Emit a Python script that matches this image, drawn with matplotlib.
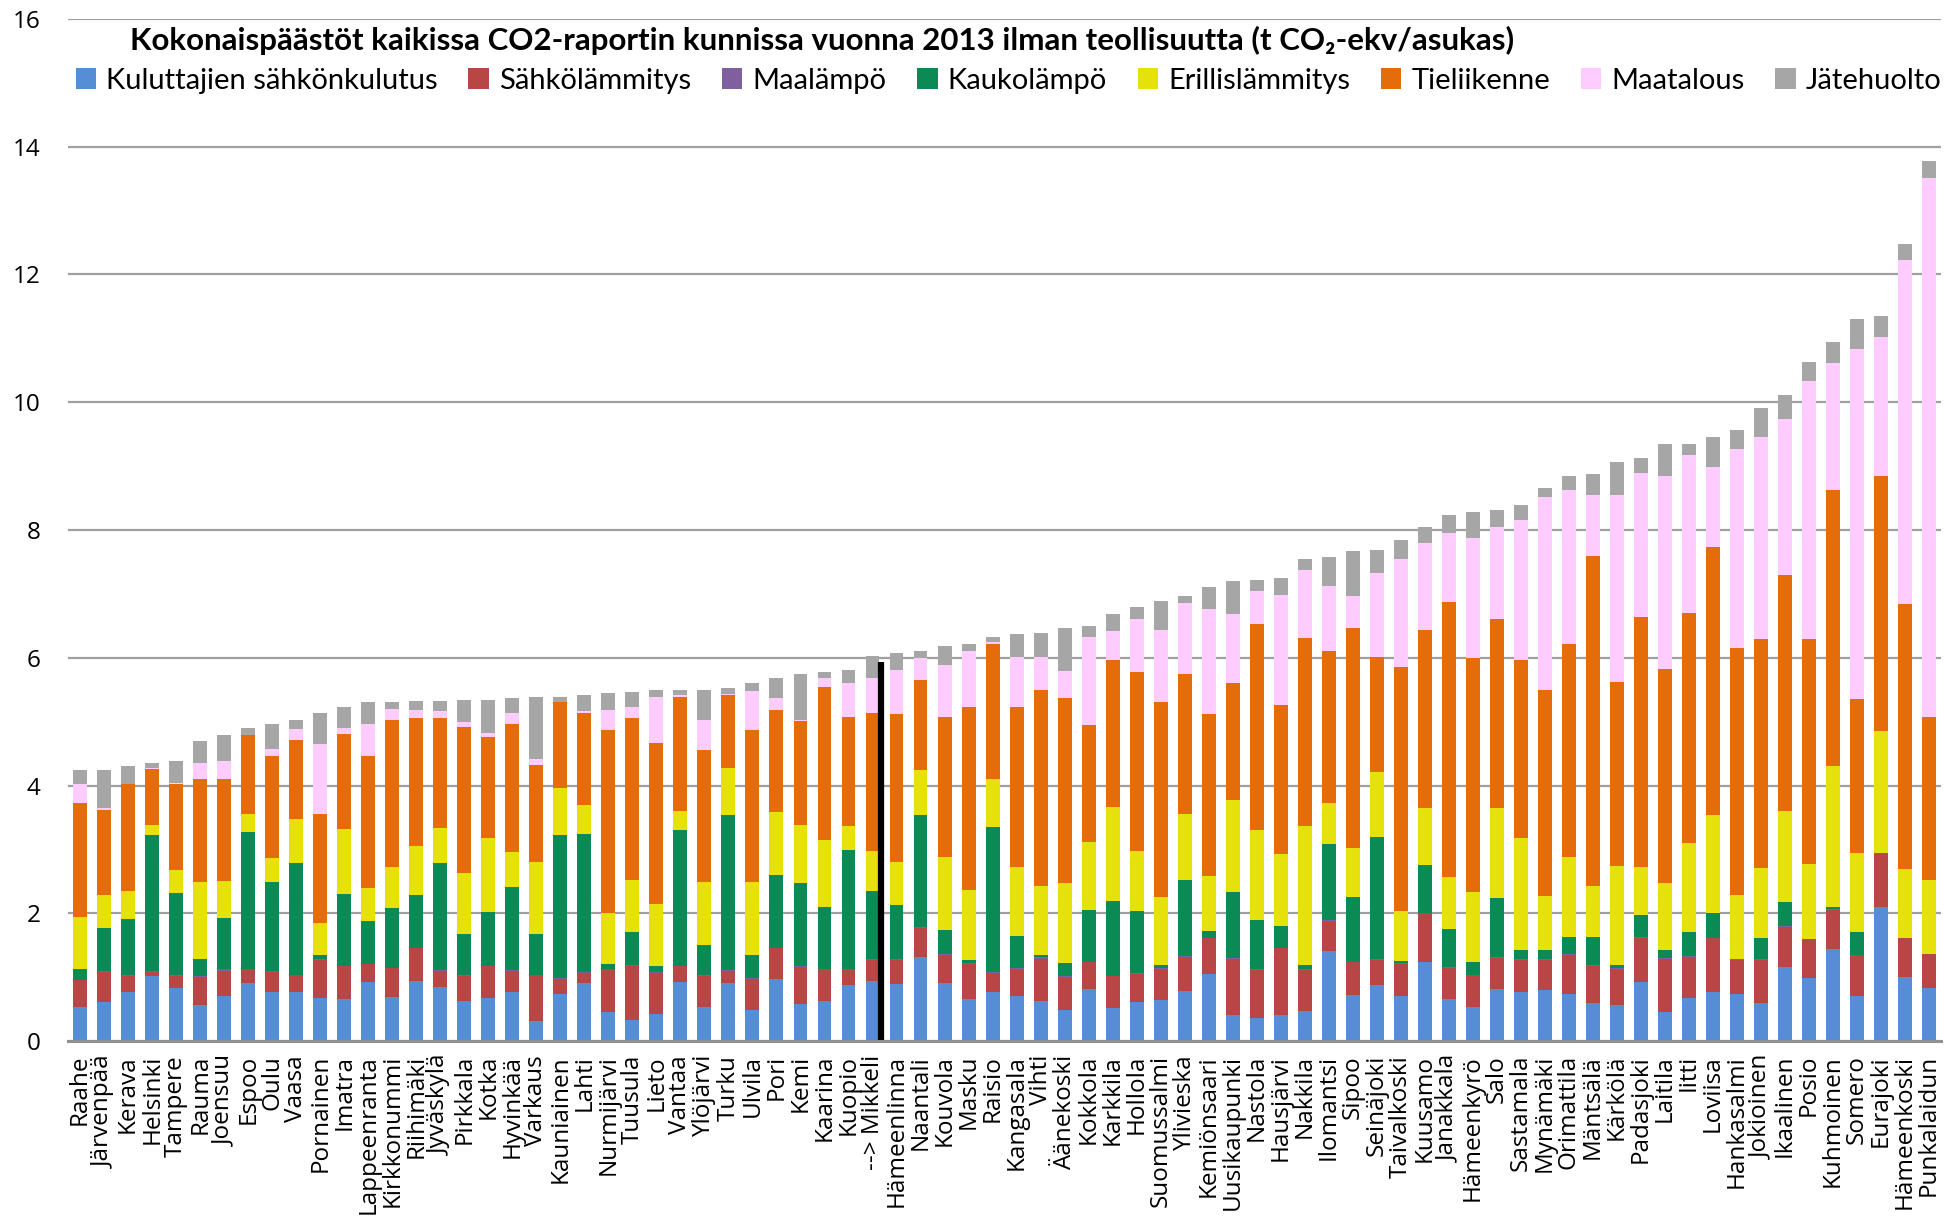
import matplotlib
matplotlib.use("Agg")
import matplotlib.pyplot as plt
import numpy as np

kunnat = ["Raahe", "Järvenpää", "Kerava", "Helsinki", "Tampere", "Rauma", "Joensuu",
          "Espoo", "Oulu", "Vaasa", "Pornainen", "Imatra", "Lappeenranta", "Kirkkonummi",
          "Riihimäki", "Jyväskylä", "Pirkkala", "Kotka", "Hyvinkää", "Varkaus",
          "Kauniainen", "Lahti", "Nurmijärvi", "Tuusula", "Lieto", "Vantaa", "Ylöjärvi",
          "Turku", "Ulvila", "Pori", "Kemi", "Kaarina", "Kuopio", "--> Mikkeli",
          "Hämeenlinna", "Naantali", "Kouvola", "Masku", "Raisio", "Kangasala", "Vihti",
          "Äänekoski", "Kokkola", "Karkkila", "Hollola", "Suomussalmi", "Ylivieska",
          "Kemiönsaari", "Uusikaupunki", "Nastola", "Hausjärvi", "Nakkila", "Ilomantsi",
          "Sipoo", "Seinäjoki", "Taivalkoski", "Kuusamo", "Janakkala", "Hämeenkyrö",
          "Salo", "Sastamala", "Mynämäki", "Orimattila", "Mäntsälä", "Kärkölä",
          "Padasjoki", "Laitila", "Iitti", "Loviisa", "Hankasalmi", "Jokioinen",
          "Ikaalinen", "Posio", "Kuhmoinen", "Somero", "Eurajoki", "Hämeenkoski",
          "Punkalaidun"]

# t CO2-ekv / asukas per sector
sahkonkulutus = [0.53, 0.61, 0.76, 1.02, 0.83, 0.56, 0.71, 0.91, 0.77, 0.76, 0.68, 0.65, 0.92,
                 0.69, 0.94, 0.85, 0.63, 0.68, 0.76, 0.31, 0.73, 0.91, 0.45, 0.33, 0.43, 0.92,
                 0.53, 0.91, 0.48, 0.97, 0.58, 0.63, 0.87, 0.94, 0.90, 1.32, 0.91, 0.65, 0.77,
                 0.71, 0.63, 0.49, 0.81, 0.52, 0.61, 0.64, 0.79, 1.05, 0.40, 0.36, 0.40, 0.47,
                 1.41, 0.72, 0.87, 0.70, 1.24, 0.66, 0.54, 0.81, 0.76, 0.80, 0.74, 0.60, 0.56,
                 0.92, 0.46, 0.67, 0.77, 0.74, 0.60, 1.16, 0.98, 1.44, 0.71, 2.10, 1.00, 0.83]
sahkolammitys = [0.42, 0.47, 0.26, 0.06, 0.19, 0.44, 0.39, 0.21, 0.31, 0.27, 0.59, 0.52, 0.28,
                 0.45, 0.51, 0.25, 0.39, 0.49, 0.34, 0.72, 0.24, 0.16, 0.67, 0.84, 0.64, 0.25,
                 0.49, 0.19, 0.49, 0.48, 0.58, 0.49, 0.25, 0.33, 0.37, 0.45, 0.43, 0.55, 0.30,
                 0.41, 0.66, 0.51, 0.42, 0.49, 0.44, 0.49, 0.53, 0.56, 0.89, 0.75, 1.05, 0.64,
                 0.47, 0.51, 0.40, 0.51, 0.76, 0.49, 0.49, 0.49, 0.51, 0.47, 0.61, 0.58, 0.57,
                 0.70, 0.83, 0.65, 0.84, 0.53, 0.67, 0.63, 0.61, 0.61, 0.63, 0.84, 0.61, 0.54]
maalampo = [0.01, 0.01, 0.02, 0.01, 0.01, 0.02, 0.02, 0.01, 0.01, 0.01, 0.01, 0.01, 0.01,
            0.01, 0.01, 0.01, 0.01, 0.01, 0.01, 0.01, 0.01, 0.01, 0.01, 0.02, 0.01, 0.01,
            0.01, 0.01, 0.01, 0.01, 0.01, 0.01, 0.01, 0.02, 0.02, 0.02, 0.02, 0.02, 0.01,
            0.02, 0.02, 0.01, 0.01, 0.01, 0.01, 0.01, 0.01, 0.01, 0.01, 0.01, 0.01, 0.01,
            0.01, 0.01, 0.01, 0.01, 0.01, 0.01, 0.01, 0.01, 0.01, 0.01, 0.02, 0.01, 0.01,
            0.01, 0.01, 0.01, 0.01, 0.01, 0.01, 0.01, 0.00, 0.01, 0.01, 0.00, 0.00, 0.00]
kaukolampo = [0.16, 0.68, 0.87, 2.14, 1.29, 0.27, 0.80, 2.14, 1.40, 1.75, 0.06, 1.12, 0.67,
              0.93, 0.83, 1.68, 0.65, 0.84, 1.30, 0.64, 2.25, 2.16, 0.08, 0.51, 0.09, 2.12,
              0.48, 2.43, 0.36, 1.14, 1.30, 0.97, 1.86, 1.06, 0.84, 1.75, 0.38, 0.05, 2.27,
              0.51, 0.03, 0.21, 0.81, 1.17, 0.97, 0.05, 1.19, 0.10, 1.03, 0.78, 0.34, 0.07,
              1.19, 1.01, 1.92, 0.03, 0.75, 0.60, 0.20, 0.93, 0.14, 0.15, 0.26, 0.44, 0.05,
              0.35, 0.12, 0.38, 0.38, 0.01, 0.33, 0.38, 0.00, 0.04, 0.36, 0.00, 0.00, 0.00]
erillislammitys = [0.82, 0.52, 0.44, 0.15, 0.36, 1.20, 0.58, 0.28, 0.38, 0.68, 0.51, 1.02,
                   0.51, 0.64, 0.76, 0.55, 0.95, 1.16, 0.55, 1.12, 0.73, 0.45, 0.80, 0.82,
                   0.97, 0.30, 0.98, 0.73, 1.15, 0.99, 0.91, 1.04, 0.37, 0.62, 0.67, 0.70,
                   1.14, 1.09, 0.75, 1.07, 1.09, 1.26, 1.06, 1.48, 0.94, 1.06, 1.03, 0.86,
                   1.45, 1.40, 1.13, 2.17, 0.64, 0.77, 1.01, 0.78, 0.89, 0.81, 1.09, 1.41,
                   1.76, 0.84, 1.25, 0.79, 1.55, 0.75, 1.06, 1.39, 1.54, 1.00, 1.10, 1.42,
                   1.18, 2.20, 1.23, 1.91, 1.09, 1.15]
tieliikenne = [1.78, 1.33, 1.68, 0.88, 1.34, 1.61, 1.60, 1.24, 1.59, 1.24, 1.70, 1.49, 2.07,
               2.31, 2.00, 1.71, 2.29, 1.58, 2.00, 1.52, 1.34, 1.44, 2.86, 2.53, 2.52, 1.78,
               2.06, 1.14, 2.38, 1.59, 1.63, 2.40, 1.71, 2.17, 2.32, 1.41, 2.20, 2.87, 2.11,
               2.51, 3.06, 2.89, 1.83, 2.30, 2.80, 3.05, 2.19, 2.54, 1.83, 3.23, 2.33, 2.95,
               2.39, 3.44, 1.80, 3.82, 2.79, 4.30, 3.66, 2.96, 2.78, 3.22, 3.33, 5.18, 2.88,
               3.91, 3.34, 3.60, 4.19, 3.86, 3.59, 3.69, 3.53, 4.33, 2.41, 3.99, 4.14, 2.55]
maatalous = [0.31, 0.02, 0.00, 0.02, 0.02, 0.25, 0.28, 0.00, 0.11, 0.17, 1.10, 0.09, 0.51,
             0.16, 0.13, 0.11, 0.07, 0.06, 0.17, 0.09, 0.00, 0.03, 0.31, 0.18, 0.72, 0.03,
             0.48, 0.02, 0.61, 0.19, 0.02, 0.15, 0.53, 0.55, 0.69, 0.34, 0.80, 0.87, 0.03,
             0.78, 0.52, 0.42, 1.38, 0.45, 0.83, 1.14, 1.11, 1.64, 1.08, 0.51, 1.72, 1.07,
             1.02, 0.50, 1.32, 1.70, 1.35, 1.09, 1.88, 1.43, 2.19, 3.03, 2.41, 0.94, 2.93,
             2.25, 3.03, 2.47, 1.25, 3.11, 3.16, 2.44, 4.04, 1.99, 5.48, 2.18, 5.39, 8.44]
jatehuolto = [0.22, 0.61, 0.27, 0.08, 0.35, 0.35, 0.41, 0.11, 0.40, 0.15, 0.48, 0.33, 0.33,
              0.11, 0.14, 0.16, 0.35, 0.52, 0.24, 0.97, 0.09, 0.25, 0.27, 0.23, 0.11, 0.09,
              0.47, 0.09, 0.13, 0.32, 0.71, 0.08, 0.21, 0.33, 0.26, 0.11, 0.30, 0.11, 0.08,
              0.36, 0.37, 0.67, 0.17, 0.27, 0.20, 0.45, 0.12, 0.34, 0.51, 0.18, 0.27, 0.16,
              0.45, 0.71, 0.36, 0.30, 0.26, 0.27, 0.41, 0.28, 0.24, 0.13, 0.22, 0.33, 0.52,
              0.24, 0.49, 0.18, 0.48, 0.30, 0.45, 0.39, 0.29, 0.32, 0.47, 0.33, 0.25, 0.27]

sarjat = ["Kuluttajien sähkönkulutus", "Sähkölämmitys", "Maalämpö", "Kaukolämpö",
          "Erillislämmitys", "Tieliikenne", "Maatalous", "Jätehuolto"]
varit = ["#558ED5", "#B84644", "#7F5FA0", "#0B8A56", "#E6E00B", "#E46C0A", "#FFCCFF", "#A6A6A6"]

arvot = [sahkonkulutus, sahkolammitys, maalampo, kaukolampo, erillislammitys,
         tieliikenne, maatalous, jatehuolto]

fontit = ["Lato", "DejaVu Sans"]

fig = plt.figure(figsize=(19.51, 12.23), dpi=100)
ax = fig.add_axes([0.0349, 0.1488, 0.96, 0.8357])

x = np.arange(len(kunnat))
leveys = 0.58
pohja = np.zeros(len(kunnat))
palkit = []
for nimi, vari, v in zip(sarjat, varit, arvot):
    v = np.array(v)
    b = ax.bar(x, v, leveys, bottom=pohja, color=vari, label=nimi, zorder=3)
    palkit.append(b)
    pohja += v

# Mikkeli highlighted with a vertical marker line
mikkeli = kunnat.index("--> Mikkeli")
ax.plot([mikkeli + leveys / 2 + 0.05] * 2, [0, 5.93], color="black", lw=4.5,
        solid_capstyle="butt", zorder=4)

ax.set_xlim(-0.5, len(kunnat) - 0.5)
ax.set_ylim(0, 16)
ax.set_yticks(range(0, 17, 2))
ax.yaxis.grid(True, color="#A0A0A0", lw=1.6, zorder=0)
ax.set_axisbelow(True)
for s in ["top", "right", "left"]:
    ax.spines[s].set_visible(False)
ax.spines["bottom"].set_color("#909090")
ax.spines["bottom"].set_linewidth(2.2)
ax.spines["bottom"].set_zorder(5)
ax.tick_params(axis="both", length=0)
ax.tick_params(axis="y", pad=20)
ax.tick_params(axis="x", pad=10)
ax.set_xticks(x)
ax.set_xticklabels(kunnat, rotation=90, fontsize=17.5, family=["Open Sans", "DejaVu Sans"])
for t in ax.get_yticklabels():
    t.set_fontsize(17.5)
    t.set_family(["Open Sans", "DejaVu Sans"])

fig.text(0.4215, 0.967,
         "Kokonaispäästöt kaikissa CO2-raportin kunnissa vuonna 2013 ilman teollisuutta (t CO\u2082-ekv/asukas)",
         ha="center", va="center", fontsize=22.5, fontweight="bold", family=fontit)

fig.legend(handles=palkit, labels=sarjat, loc="center", bbox_to_anchor=(0.517, 0.934),
           ncol=8, frameon=False, handlelength=0.7, handleheight=0.7,
           handletextpad=0.35, columnspacing=1.05,
           prop={"family": fontit, "size": 21})

fig.savefig("out.png", dpi=100)
